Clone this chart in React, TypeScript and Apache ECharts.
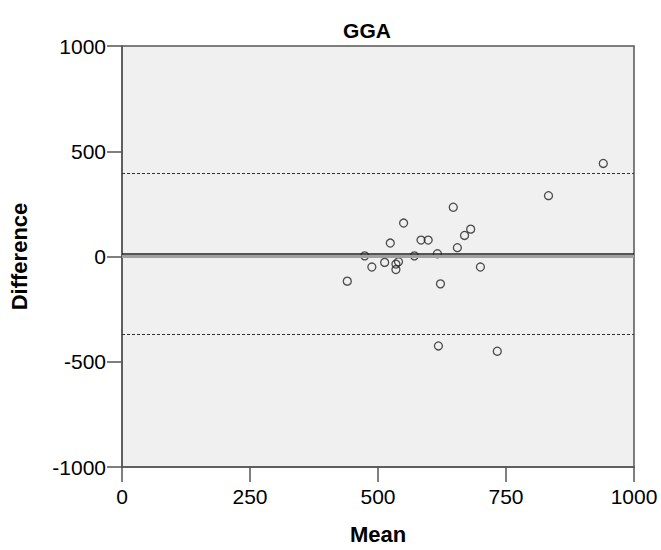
import React, { useEffect, useRef } from "react";
import * as echarts from "echarts";

const meanValues = [940, 833, 647, 550, 681, 669, 584, 598, 524, 655, 474, 616, 571, 513, 540, 535, 535, 488, 700, 440, 622, 618, 733];
const diffValues = [442, 289, 234, 159, 130, 100, 78, 78, 64, 42, 3, 13, 3, -28, -25, -36, -62, -50, -50, -117, -130, -425, -450];
const meanDiff = 13;
const upperLimit = 394;
const lowerLimit = -369;
const zeroLine = 0;
const xTicks = [0, 250, 500, 750, 1000];
const yTicks = [-1000, -500, 0, 500, 1000];

export default function App() {
  const ref = useRef<HTMLDivElement>(null);
  useEffect(() => {
    if (!ref.current) return;
    const chart = echarts.init(ref.current, null, { renderer: "svg" });
    const font = "'Liberation Sans', Arial, sans-serif";
    const points = meanValues.map((m, i) => [m, diffValues[i]]);
    const axisColor = "#555";
    chart.setOption({
      animation: false,
      title: {
        text: "GGA",
        left: 362,
        top: 15,
        textAlign: "center",
        textStyle: { fontFamily: font, fontWeight: "bold", fontSize: 21, color: "#000" },
      },
      grid: {
        left: 118,
        right: 27,
        top: 46,
        bottom: 77,
        show: true,
        backgroundColor: "#f0f0f0",
        borderColor: axisColor,
        borderWidth: 1.5,
      },
      xAxis: {
        type: "value",
        min: xTicks[0],
        max: xTicks[xTicks.length - 1],
        interval: 250,
        name: "Mean",
        nameLocation: "middle",
        nameGap: 56,
        nameTextStyle: { fontFamily: font, fontWeight: "bold", fontSize: 22, color: "#000" },
        axisLine: { show: true, onZero: false, lineStyle: { color: axisColor, width: 1.5 } },
        axisTick: { show: true, length: 15, lineStyle: { color: axisColor, width: 1.5 } },
        axisLabel: { fontFamily: font, fontSize: 21, color: "#000", margin: 19, formatter: (v: number) => String(v) },
        splitLine: { show: false },
      },
      yAxis: {
        type: "value",
        min: yTicks[0],
        max: yTicks[yTicks.length - 1],
        interval: 500,
        name: "Difference",
        nameLocation: "middle",
        nameGap: 92,
        nameRotate: 90,
        nameTextStyle: { fontFamily: font, fontWeight: "bold", fontSize: 22, color: "#000" },
        axisLine: { show: true, onZero: false, lineStyle: { color: axisColor, width: 1.5 } },
        axisTick: { show: true, length: 15, lineStyle: { color: axisColor, width: 1.5 } },
        axisLabel: { fontFamily: font, fontSize: 21, color: "#000", margin: 16, formatter: (v: number) => String(v) },
        splitLine: { show: false },
      },
      series: [
        {
          type: "scatter",
          data: points,
          symbol: "circle",
          symbolSize: 8,
          itemStyle: { color: "rgba(0,0,0,0)", borderColor: "#222", borderWidth: 1.3 },
          markLine: {
            silent: true,
            symbol: "none",
            label: { show: false },
            data: [
              { yAxis: zeroLine, lineStyle: { color: "#a0a0a0", width: 3, type: "solid" } },
              { yAxis: meanDiff, lineStyle: { color: "#222", width: 1.5, type: "solid" } },
              { yAxis: upperLimit, lineStyle: { color: "#333", width: 1, type: [3, 2] } },
              { yAxis: lowerLimit, lineStyle: { color: "#333", width: 1, type: [3, 2] } },
            ],
          },
        },
      ],
    });
    return () => chart.dispose();
  }, []);
  return <div ref={ref} style={{ width: 661, height: 550, position: "absolute", left: 0, top: 0 }} />;
}
